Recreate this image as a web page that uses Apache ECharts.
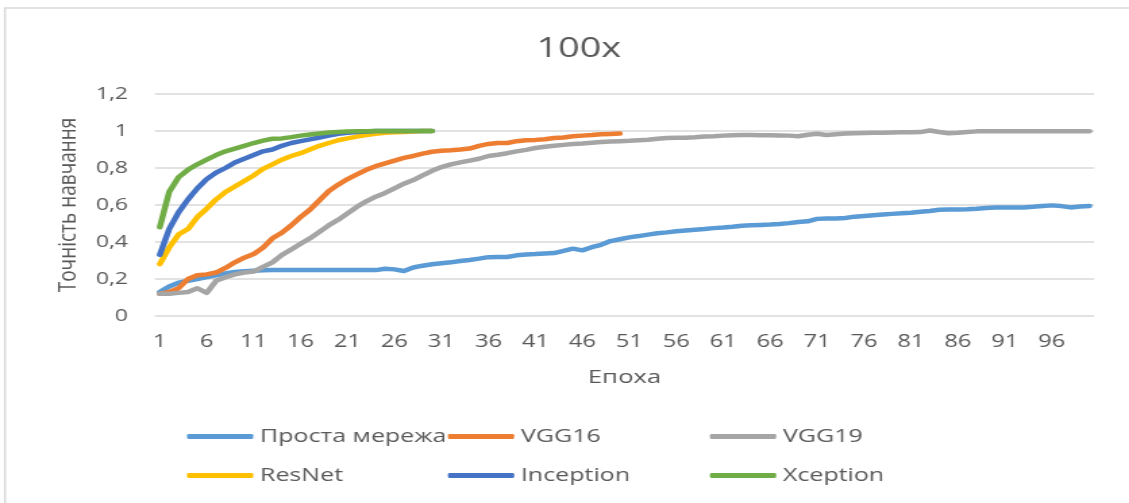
<!DOCTYPE html>
<html>
<head>
<meta charset="utf-8">
<script src="https://cdn.jsdelivr.net/npm/echarts@6/dist/echarts.min.js"></script>
<style>
  html, body { margin: 0; padding: 0; background: #ffffff; overflow: hidden; }
  /* The chart is drawn narrower and widened horizontally as a whole */
  #chart {
    width: 836px;
    height: 503px;
    transform: scaleX(1.3505);
    transform-origin: 0 0;
  }
</style>
</head>
<body>
<div id="chart"></div>
<script>
// Epochs 1..100
const epochs = Array.from({ length: 100 }, (_, i) => String(i + 1));

const seriesNames = ['Проста мережа', 'VGG16', 'VGG19', 'ResNet', 'Inception', 'Xception'];
const seriesColors = ['#5B9BD5', '#ED7D31', '#A5A5A5', '#FFC000', '#4472C4', '#70AD47'];

// Training accuracy per epoch
const simpleNet = [
  0.13, 0.16, 0.18, 0.19, 0.20, 0.21, 0.22, 0.23, 0.238, 0.242,
  0.245, 0.247, 0.248, 0.248, 0.248, 0.248, 0.248, 0.248, 0.248, 0.248,
  0.248, 0.248, 0.248, 0.248, 0.255, 0.252, 0.243, 0.262, 0.272, 0.28,
  0.285, 0.29, 0.297, 0.303, 0.31, 0.318, 0.319, 0.319, 0.328, 0.333,
  0.335, 0.338, 0.34, 0.352, 0.364, 0.355, 0.372, 0.385, 0.405, 0.415,
  0.425, 0.432, 0.44, 0.447, 0.452, 0.458, 0.462, 0.466, 0.47, 0.475,
  0.478, 0.482, 0.488, 0.49, 0.492, 0.494, 0.497, 0.502, 0.508, 0.512,
  0.525, 0.527, 0.527, 0.53, 0.537, 0.541, 0.545, 0.549, 0.552, 0.555,
  0.558, 0.563, 0.568, 0.574, 0.576, 0.576, 0.577, 0.58, 0.584, 0.586,
  0.586, 0.586, 0.587, 0.59, 0.594, 0.598, 0.594, 0.587, 0.592, 0.595
];

const vgg16 = [
  0.12, 0.13, 0.15, 0.20, 0.22, 0.225, 0.235, 0.26, 0.29, 0.315,
  0.335, 0.37, 0.42, 0.45, 0.49, 0.535, 0.575, 0.625, 0.675, 0.71,
  0.74, 0.765, 0.79, 0.81, 0.825, 0.84, 0.855, 0.865, 0.878, 0.888,
  0.893, 0.896, 0.90, 0.905, 0.92, 0.93, 0.935, 0.935, 0.945, 0.95,
  0.952, 0.955, 0.962, 0.965, 0.972, 0.975, 0.978, 0.982, 0.984, 0.986
];

const vgg19 = [
  0.12, 0.12, 0.125, 0.13, 0.15, 0.125, 0.19, 0.21, 0.225, 0.235,
  0.24, 0.265, 0.29, 0.33, 0.36, 0.39, 0.42, 0.455, 0.49, 0.52,
  0.555, 0.59, 0.62, 0.645, 0.665, 0.69, 0.715, 0.735, 0.76, 0.785,
  0.805, 0.82, 0.83, 0.84, 0.85, 0.865, 0.872, 0.88, 0.89, 0.898,
  0.908, 0.915, 0.92, 0.925, 0.93, 0.933, 0.937, 0.94, 0.943, 0.945,
  0.947, 0.95, 0.953, 0.958, 0.962, 0.964, 0.964, 0.966, 0.97, 0.972,
  0.975, 0.977, 0.978, 0.978, 0.977, 0.977, 0.976, 0.975, 0.972, 0.98,
  0.985, 0.978, 0.982, 0.986, 0.988, 0.989, 0.99, 0.991, 0.992, 0.993,
  0.993, 0.994, 1.003, 0.995, 0.988, 0.99, 0.995, 0.998, 0.998, 0.998,
  0.998, 0.998, 0.998, 0.998, 0.998, 0.998, 0.998, 0.998, 0.998, 0.998
];

const resNet = [
  0.28, 0.37, 0.44, 0.47, 0.535, 0.58, 0.63, 0.67, 0.70, 0.73,
  0.76, 0.795, 0.82, 0.845, 0.865, 0.88, 0.90, 0.92, 0.935, 0.95,
  0.96, 0.97, 0.978, 0.985, 0.99, 0.993, 0.995, 0.997, 1.0, 1.0
];

const inception = [
  0.33, 0.47, 0.56, 0.63, 0.69, 0.74, 0.775, 0.80, 0.83, 0.85,
  0.87, 0.89, 0.90, 0.92, 0.935, 0.945, 0.955, 0.965, 0.975, 0.985,
  0.99, 0.995, 0.997, 1.0, 1.0, 1.0, 1.0, 1.0, 1.0, 1.0
];

const xception = [
  0.48, 0.67, 0.75, 0.79, 0.82, 0.845, 0.87, 0.89, 0.905, 0.92,
  0.935, 0.948, 0.958, 0.96, 0.967, 0.975, 0.981, 0.987, 0.992, 0.995,
  0.997, 0.998, 0.999, 1.0, 1.0, 1.0, 1.0, 1.0, 1.0, 1.0
];

const seriesData = [simpleNet, vgg16, vgg19, resNet, inception, xception];

const FONT = 'Open Sans';
const TEXT = '#595959';
const GRID = '#D9D9D9';

// Legend laid out as a 3x2 table
const legendCols = [138.5, 331.7, 525.7];
const legendRows = [427, 466];

const legends = seriesNames.map((name, i) => ({
  data: [name],
  left: legendCols[i % 3],
  top: legendRows[Math.floor(i / 3)],
  padding: 0,
  icon: 'roundRect',
  itemWidth: 49,
  itemHeight: 5,
  itemGap: 0,
  selectedMode: false,
  textStyle: { fontFamily: FONT, fontSize: 18.5, color: TEXT }
}));

const option = {
  animation: false,
  backgroundColor: '#ffffff',
  color: seriesColors,
  graphic: [{
    type: 'rect',
    shape: { x: 3.7, y: 8, width: 1000, height: 700 },
    style: { fill: 'none', stroke: GRID, lineWidth: 1.5 },
    silent: true
  }],
  title: {
    text: '100x',
    left: 423.5,
    top: 30,
    textAlign: 'center',
    textStyle: { fontFamily: FONT, fontSize: 28, fontWeight: 'normal', color: TEXT }
  },
  legend: legends,
  grid: { left: 114.8, right: 25.9, top: 94, bottom: 187, containLabel: false },
  xAxis: {
    type: 'category',
    data: epochs,
    boundaryGap: true,
    name: 'Епоха',
    nameLocation: 'middle',
    nameGap: 52,
    nameTextStyle: { fontFamily: FONT, fontSize: 19, color: TEXT },
    axisLine: { show: false },
    axisTick: { show: false },
    splitLine: { show: false },
    axisLabel: {
      interval: 4,
      margin: 17,
      fontFamily: FONT,
      fontSize: 17.5,
      color: TEXT
    }
  },
  yAxis: {
    type: 'value',
    min: 0,
    max: 1.2,
    interval: 0.2,
    name: 'Точність навчання',
    nameLocation: 'middle',
    nameGap: 54,
    nameRotate: 90,
    nameTextStyle: { fontFamily: FONT, fontSize: 19, color: TEXT },
    axisLine: { show: false },
    axisTick: { show: false },
    splitLine: { lineStyle: { color: GRID, width: 1.5 } },
    axisLabel: {
      margin: 20,
      fontFamily: FONT,
      fontSize: 17,
      color: TEXT,
      formatter: v => String(Math.round(v * 10) / 10).replace('.', ',')
    }
  },
  series: seriesNames.map((name, i) => ({
    name,
    type: 'line',
    data: seriesData[i],
    showSymbol: false,
    symbol: 'none',
    smooth: false,
    lineStyle: { width: 4.5, color: seriesColors[i], cap: 'round', join: 'round' },
    itemStyle: { color: seriesColors[i] },
    z: 2 + i
  }))
};

const chart = echarts.init(document.getElementById('chart'), null, { renderer: 'canvas' });
chart.setOption(option);
</script>
</body>
</html>
